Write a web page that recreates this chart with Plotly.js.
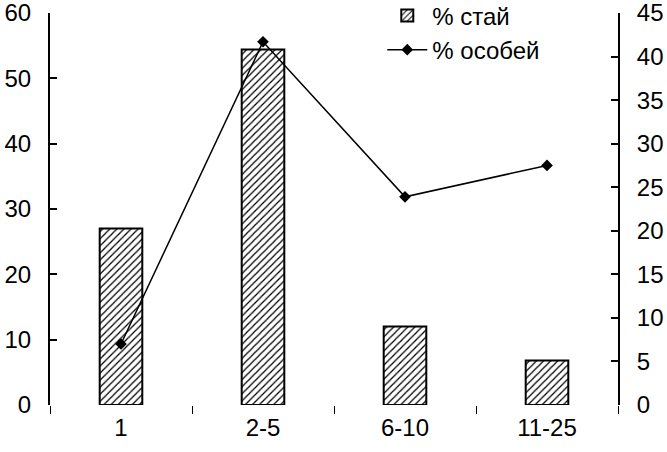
<!DOCTYPE html>
<html>
<head>
<meta charset="utf-8">
<script src="https://cdn.plot.ly/plotly-3.0.1.min.js"></script>
<style>html,body{margin:0;padding:0;background:#fff;}#chart{width:667px;height:452px;}</style>
</head>
<body>
<div id="chart"></div>
<script>
const categories = ["1", "2-5", "6-10", "11-25"];
const flocksPct = [27, 54.4, 12, 6.8];      // % стай (left axis)
const individualsPct = [7, 41.7, 23.9, 27.5]; // % особей (right axis)
const barName = "% стай";
const lineName = "% особей";

const font = {family: "Liberation Sans, Arial, sans-serif", size: 24, color: "#000"};

const traces = [
  {
    type: "bar",
    name: barName,
    x: categories,
    y: flocksPct,
    width: 0.3,
    marker: {
      color: "#fff",
      line: {color: "#000", width: 2},
      pattern: {shape: "/", fgcolor: "#000", bgcolor: "#fff", size: 5, solidity: 0.25}
    },
    yaxis: "y"
  },
  {
    type: "scatter",
    mode: "lines+markers",
    name: lineName,
    x: categories,
    y: individualsPct,
    line: {color: "#000", width: 1.5},
    marker: {symbol: "diamond", size: 9, color: "#000"},
    yaxis: "y2"
  }
];

const layout = {
  width: 667,
  height: 452,
  margin: {l: 50, r: 49, t: 13, b: 47, autoexpand: false},
  paper_bgcolor: "#fff",
  plot_bgcolor: "#fff",
  font: font,
  showlegend: true,
  legend: {
    x: 0.585, y: 1.05, xanchor: "left", yanchor: "top",
    bgcolor: "rgba(0,0,0,0)", font: font, tracegroupgap: 0, itemwidth: 40
  },
  xaxis: {
    type: "category",
    showline: false,
    showgrid: false,
    zeroline: false,
    ticks: "outside",
    tickson: "boundaries",
    ticklen: 8,
    tickcolor: "#000",
    tickwidth: 1,
    ticklabelstandoff: 6,
    tickfont: font
  },
  yaxis: {
    range: [0, 60],
    dtick: 10,
    showline: true,
    linecolor: "#000",
    linewidth: 2,
    ticks: "inside",
    ticklen: 7,
    tickwidth: 2,
    tickcolor: "#000",
    showgrid: false,
    zeroline: false,
    ticklabelstandoff: 12,
    ticklabeloverflow: "allow",
    tickfont: font
  },
  yaxis2: {
    overlaying: "y",
    side: "right",
    range: [0, 45],
    dtick: 5,
    showline: true,
    linecolor: "#000",
    linewidth: 2,
    ticks: "inside",
    ticklen: 7,
    tickwidth: 2,
    tickcolor: "#000",
    showgrid: false,
    zeroline: false,
    ticklabelstandoff: 12,
    ticklabeloverflow: "allow",
    tickfont: font
  }
};

Plotly.newPlot("chart", traces, layout, {staticPlot: true, displayModeBar: false});
</script>
</body>
</html>
